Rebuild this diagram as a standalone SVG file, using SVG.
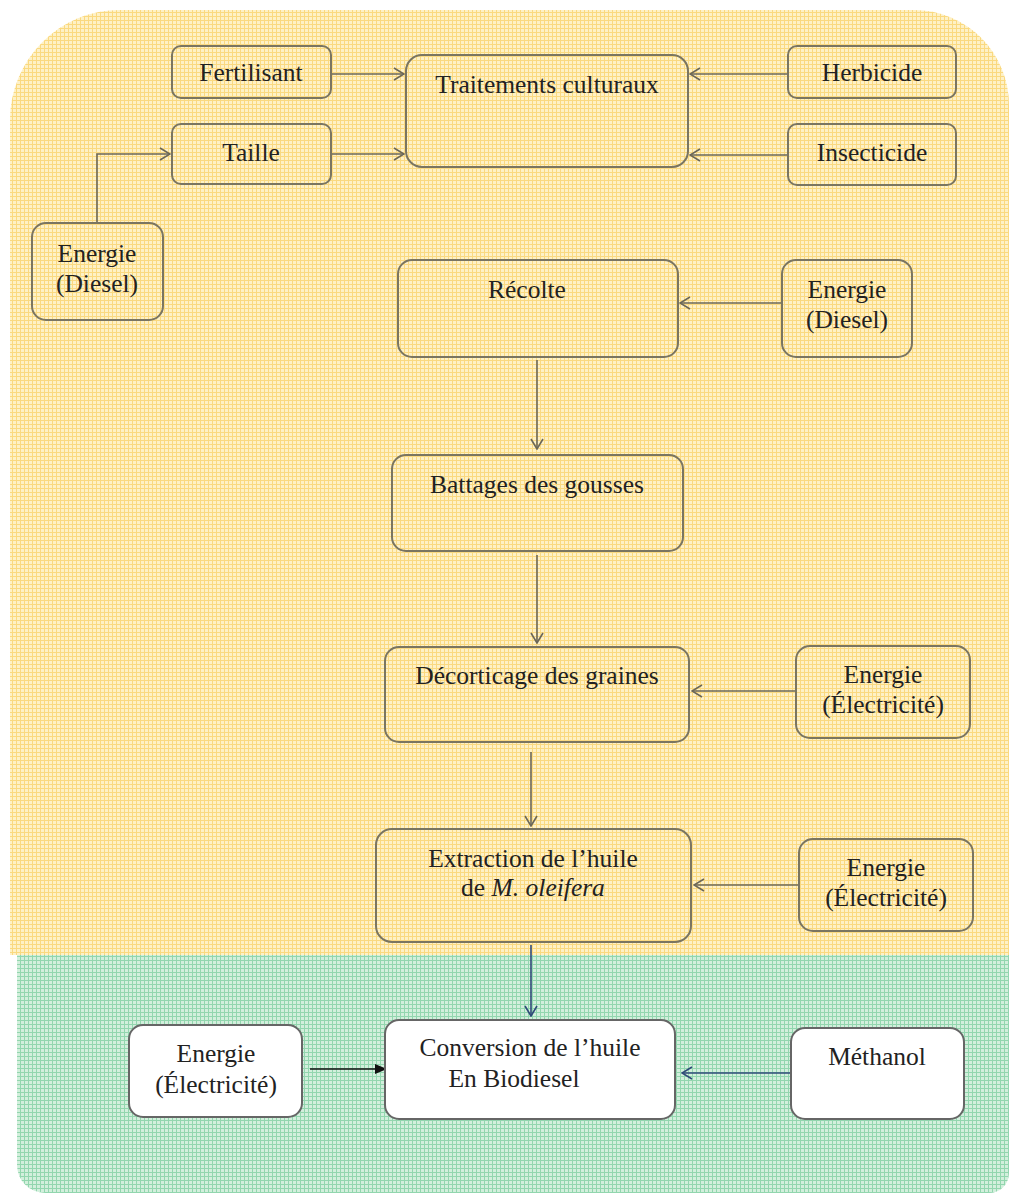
<svg xmlns="http://www.w3.org/2000/svg" width="1009" height="1193" viewBox="0 0 1009 1193">
<defs>
<pattern id="gy" width="4" height="4" patternUnits="userSpaceOnUse">
<rect width="4" height="4" fill="#fef1c6"/>
<path d="M0,0.5H4M0.5,0V4" stroke="#fad980" stroke-width="1"/>
</pattern>
<pattern id="gg" width="4" height="4" patternUnits="userSpaceOnUse">
<rect width="4" height="4" fill="#d2efdc"/>
<path d="M0,0.5H4M0.5,0V4" stroke="#92d6ae" stroke-width="1"/>
</pattern>
<marker id="ao" viewBox="0 0 12 14" refX="11" refY="7" markerWidth="12" markerHeight="14" markerUnits="userSpaceOnUse" orient="auto">
<path d="M1,1 L11,7 L1,13" fill="none" stroke="#6b6758" stroke-width="1.6"/>
</marker>
<marker id="ab" viewBox="0 0 12 14" refX="11" refY="7" markerWidth="12" markerHeight="14" markerUnits="userSpaceOnUse" orient="auto">
<path d="M1,1 L11,7 L1,13" fill="none" stroke="#2f4a78" stroke-width="1.6"/>
</marker>
<marker id="af" viewBox="0 0 12 12" refX="11" refY="6" markerWidth="12" markerHeight="12" markerUnits="userSpaceOnUse" orient="auto">
<path d="M0,1 L12,6 L0,11 Z" fill="#111"/>
</marker>
</defs>
<style>
.n{fill:none;stroke:#7a7561;stroke-width:2}
.w{fill:#fff;stroke:#666;stroke-width:2}
.t{font-family:"Liberation Serif","Times New Roman",serif;font-size:25.5px;fill:#222;text-anchor:middle}
.c{fill:none;stroke:#6b6758;stroke-width:1.6}
.cb{fill:none;stroke:#2f4a78;stroke-width:1.6}
.ck{fill:none;stroke:#111;stroke-width:1.6}
</style>
<rect width="1009" height="1193" fill="#fff"/>
<path id="bg-yellow" d="M10,955 V120 A110,110 0 0 1 120,10 H914 A95,95 0 0 1 1009,105 V955 Z" fill="url(#gy)"/>
<path id="bg-green" d="M17,955 H1009 V1173 A20,20 0 0 1 989,1193 H45 A28,28 0 0 1 17,1165 Z" fill="url(#gg)"/>
<g id="connectors">
<path class="c" d="M331,74 H404" marker-end="url(#ao)"/>
<path class="c" d="M331,154 H404" marker-end="url(#ao)"/>
<path class="c" d="M788,74 H690" marker-end="url(#ao)"/>
<path class="c" d="M788,155 H690" marker-end="url(#ao)"/>
<path class="c" d="M97,223 V154 H170" marker-end="url(#ao)"/>
<path class="c" d="M782,303 H680" marker-end="url(#ao)"/>
<path class="c" d="M537,360 V449" marker-end="url(#ao)"/>
<path class="c" d="M537,555 V643" marker-end="url(#ao)"/>
<path class="c" d="M796,691 H692" marker-end="url(#ao)"/>
<path class="c" d="M531,752 V826" marker-end="url(#ao)"/>
<path class="c" d="M799,885 H694" marker-end="url(#ao)"/>
<path class="cb" d="M531,945 V1016" marker-end="url(#ab)"/>
<path class="ck" d="M310,1069 H386" marker-end="url(#af)"/>
<path class="cb" d="M791,1073 H682" marker-end="url(#ab)"/>
</g>
<g id="fertilisant"><rect class="n" x="172" y="46" width="159" height="52" rx="9"/><text class="t" x="251" y="81">Fertilisant</text></g>
<g id="taille"><rect class="n" x="172" y="124" width="159" height="60" rx="9"/><text class="t" x="251" y="161">Taille</text></g>
<g id="traitements"><rect class="n" x="406" y="55" width="282" height="112" rx="16"/><text class="t" x="547" y="93">Traitements culturaux</text></g>
<g id="herbicide"><rect class="n" x="788" y="46" width="168" height="52" rx="9"/><text class="t" x="872" y="81">Herbicide</text></g>
<g id="insecticide"><rect class="n" x="788" y="124" width="168" height="61" rx="9"/><text class="t" x="872" y="161">Insecticide</text></g>
<g id="energie-diesel-1"><rect class="n" x="32" y="223" width="131" height="97" rx="14"/><text class="t" x="97" y="262">Energie</text><text class="t" x="97" y="292">(Diesel)</text></g>
<g id="recolte"><rect class="n" x="398" y="260" width="280" height="97" rx="14"/><text class="t" x="527" y="298">Récolte</text></g>
<g id="energie-diesel-2"><rect class="n" x="782" y="260" width="130" height="97" rx="14"/><text class="t" x="847" y="298">Energie</text><text class="t" x="847" y="328">(Diesel)</text></g>
<g id="battages"><rect class="n" x="392" y="455" width="291" height="96" rx="14"/><text class="t" x="537" y="493">Battages des gousses</text></g>
<g id="decorticage"><rect class="n" x="385" y="647" width="304" height="95" rx="14"/><text class="t" x="537" y="684">Décorticage des graines</text></g>
<g id="energie-elec-1"><rect class="n" x="796" y="646" width="174" height="92" rx="14"/><text class="t" x="883" y="683">Energie</text><text class="t" x="883" y="713">(Électricité)</text></g>
<g id="extraction"><rect class="n" x="376" y="829" width="315" height="113" rx="16"/><text class="t" x="533" y="867">Extraction de l’huile</text><text class="t" x="533" y="896">de <tspan font-style="italic">M. oleifera</tspan></text></g>
<g id="energie-elec-2"><rect class="n" x="799" y="839" width="174" height="92" rx="14"/><text class="t" x="886" y="876">Energie</text><text class="t" x="886" y="906">(Électricité)</text></g>
<g id="conversion"><rect class="w" x="385" y="1020" width="290" height="99" rx="14"/><text class="t" x="530" y="1056">Conversion de l’huile</text><text class="t" x="514" y="1087">En Biodiesel</text></g>
<g id="energie-elec-3"><rect class="w" x="129" y="1025" width="173" height="92" rx="14"/><text class="t" x="216" y="1062">Energie</text><text class="t" x="216" y="1093">(Électricité)</text></g>
<g id="methanol"><rect class="w" x="791" y="1028" width="173" height="91" rx="14"/><text class="t" x="877" y="1065">Méthanol</text></g>
</svg>
